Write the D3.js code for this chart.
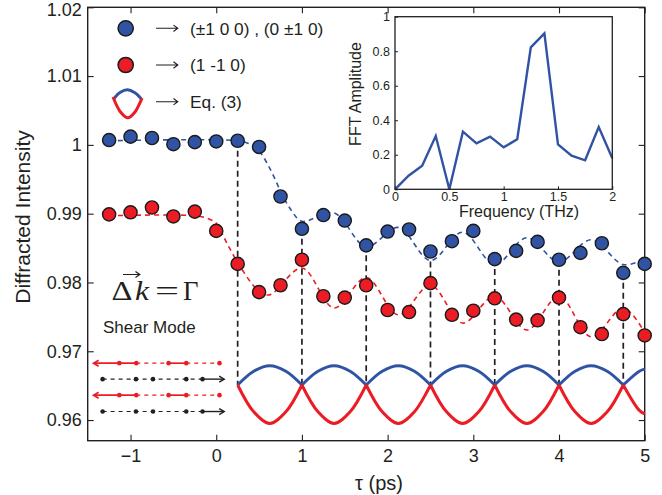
<!DOCTYPE html>
<html><head><meta charset="utf-8">
<script src="https://cdn.jsdelivr.net/npm/d3@7"></script>
<style>
body{margin:0;background:#fff}
svg{display:block}
text{font-family:"Liberation Sans",Arial,sans-serif;fill:#231f20}
</style>
</head><body>
<svg id="chart" width="662" height="495"></svg>
<script>
// ---------- data ----------
const tau = [-1.25,-1,-0.75,-0.5,-0.25,0,0.25,0.5,0.75,1,1.25,1.5,1.75,2,2.25,2.5,2.75,3,3.25,3.5,3.75,4,4.25,4.5,4.75,5];
const blueVals = [1.0007,1.0012,1.0010,1.0001,1.0004,1.0005,1.0006,0.9997,0.9925,0.9878,0.9898,0.9890,0.9854,0.9874,0.9877,0.9845,0.9860,0.9875,0.9834,0.9846,0.9859,0.9833,0.9843,0.9857,0.9814,0.9827];
const redVals  = [0.9899,0.9902,0.9909,0.9896,0.9903,0.9875,0.9827,0.9786,0.9796,0.9833,0.9780,0.9778,0.9796,0.9760,0.9757,0.9799,0.9753,0.9759,0.9777,0.9746,0.9745,0.9778,0.9735,0.9725,0.9754,0.9723];

const blueFitTau  = [-1.25,0.25,0.375,0.5,0.625,0.75,0.875,1.0,1.375,1.75,2.125,2.5,2.875,3.25,3.625,4.0,4.375,4.75,5.0];
const blueFitVals = [1.0006,1.0006,1.0002,0.9991,0.9966,0.9933,0.9905,0.9889,0.9901,0.9852,0.9880,0.9832,0.9873,0.9826,0.9865,0.9830,0.9862,0.9826,0.9834];
const redFitTau   = [-1.25,-0.25,-0.1,0.0,0.125,0.28,0.5,0.625,1.0,1.375,1.75,2.125,2.5,2.875,3.25,3.625,4.0,4.375,4.75,5.0];
const redFitVals  = [0.9897,0.9897,0.9893,0.9886,0.9857,0.9823,0.9787,0.9782,0.9821,0.9763,0.9807,0.9753,0.9796,0.9741,0.9780,0.9731,0.9780,0.9721,0.9763,0.9727];

const eqTau  = [0.25,0.4375,0.625,0.8125,1.0,1.1875,1.375,1.5625,1.75,1.9375,2.125,2.3125,2.5,2.6875,2.875,3.0625,3.25,3.4375,3.625,3.8125,4.0,4.1875,4.375,4.5625,4.75,4.9375,5.0];
const eqBlue = [0.9651,0.9671,0.9679,0.9671,0.9651,0.9671,0.9679,0.9671,0.9651,0.9671,0.9679,0.9671,0.9651,0.9671,0.9679,0.9671,0.9651,0.9671,0.9679,0.9671,0.9651,0.9671,0.9679,0.9671,0.9651,0.9671,0.9674];
const eqRed  = [0.9651,0.9612,0.9595,0.9612,0.9651,0.9612,0.9595,0.9612,0.9651,0.9612,0.9595,0.9612,0.9651,0.9612,0.9595,0.9612,0.9651,0.9612,0.9595,0.9612,0.9651,0.9612,0.9595,0.9612,0.9651,0.9614,0.9609];
const eqCross = 0.9651;

const markerTau = [0.25,1,1.75,2.5,3.25,4,4.75];
const markerBottom = 0.9651;

const xTicks = [-1,0,1,2,3,4,5];
const xTickLabels = ["\u22121","0","1","2","3","4","5"];
const yTicks = [0.96,0.97,0.98,0.99,1,1.01,1.02];
const yTickLabels = ["0.96","0.97","0.98","0.99","1","1.01","1.02"];

const fftFreq = [0,0.125,0.25,0.375,0.5,0.625,0.75,0.875,1.0,1.125,1.25,1.375,1.5,1.625,1.75,1.875,2.0];
const fftAmp  = [0,0.079,0.137,0.309,0,0.334,0.266,0.305,0.243,0.290,0.822,0.903,0.260,0.195,0.168,0.361,0.180];
const insetXTicks = [0,0.5,1,1.5,2];
const insetXLabels = ["0","0.5","1","1.5","2"];
const insetYTicks = [0,0.2,0.4,0.6,0.8,1];
const insetYLabels = ["0","0.2","0.4","0.6","0.8","1"];

// schematic (displacement pattern), in data units
const schemRedRows = [0.96827,0.96362];
const schemBlackRows = [0.96595,0.96124];
const schemRedDots = [-1.131,-0.933,-0.556,-0.350,0.038];
const schemBlackDots = [-1.326,-0.937,-0.738,-0.350,-0.160];
const schemRedTip = -1.431, schemBlackTip = 0.093;

// ---------- drawing ----------
const BLUE = "#3153a4", RED = "#ec1c24", INK = "#231f20";
const svg = d3.select("#chart");
const L = 87.7, R = 644.7, T = 7.3, B = 440.7;
const x = d3.scaleLinear().domain([-1.5,5]).range([L,R]);
const y = d3.scaleLinear().domain([0.957,1.02]).range([B,T]);

const g = svg.append("g");

// axes (inward ticks on all sides)
const xb = g.append("g").attr("transform",`translate(0,${B})`)
  .call(d3.axisBottom(x).tickValues(xTicks).tickSizeInner(-6).tickSizeOuter(0).tickPadding(8.5)
    .tickFormat((d,i)=>xTickLabels[i]));
const xt = g.append("g").attr("transform",`translate(0,${T})`)
  .call(d3.axisTop(x).tickValues(xTicks).tickSizeInner(-6).tickSizeOuter(0).tickFormat(""));
const yl = g.append("g").attr("transform",`translate(${L},0)`)
  .call(d3.axisLeft(y).tickValues(yTicks).tickSizeInner(-6).tickSizeOuter(0).tickPadding(6)
    .tickFormat((d,i)=>yTickLabels[i]));
const yr = g.append("g").attr("transform",`translate(${R},0)`)
  .call(d3.axisRight(y).tickValues(yTicks).tickSizeInner(-6).tickSizeOuter(0).tickFormat(""));
[xb,xt,yl,yr].forEach(a=>{
  a.select(".domain").remove();
  a.selectAll("line").attr("stroke",INK).attr("stroke-width",1.1);
  a.selectAll("text").style("font-size","18px").attr("fill",INK).style("font-family","'Liberation Sans',Arial,sans-serif");
});
yl.selectAll("text").filter((d,i)=>i===yTicks.length-1).attr("dy","0.45em");

g.append("rect").attr("x",L).attr("y",T).attr("width",R-L).attr("height",B-T)
  .attr("fill","none").attr("stroke",INK).attr("stroke-width",1.4);

// axis titles
g.append("text").attr("x",379).attr("y",490).attr("text-anchor","middle")
  .style("font-size","20px").text("\u03c4 (ps)");
g.append("text").attr("transform","translate(30,217) rotate(-90)").attr("text-anchor","middle")
  .style("font-size","21px").text("Diffracted Intensity");

// fits
const line = d3.line().curve(d3.curveCatmullRom.alpha(0.5));
g.append("path").attr("d",line(blueFitTau.map((t,i)=>[x(t),y(blueFitVals[i])])))
  .attr("fill","none").attr("stroke",BLUE).attr("stroke-width",1.6).attr("stroke-dasharray","5,4");
g.append("path").attr("d",line(redFitTau.map((t,i)=>[x(t),y(redFitVals[i])])))
  .attr("fill","none").attr("stroke",RED).attr("stroke-width",1.6).attr("stroke-dasharray","5,4");

// vertical markers
markerTau.forEach(t=>{
  const idx = tau.indexOf(t);
  g.append("line").attr("x1",x(t)).attr("x2",x(t)).attr("y1",y(blueVals[idx])).attr("y2",y(markerBottom))
    .attr("stroke",INK).attr("stroke-width",1.7).attr("stroke-dasharray","6,4");
});

// Eq.(3) curves: arches between crossings (cusps at crossings)
function arches(vals){
  const segs = []; let cur = [];
  eqTau.forEach((t,i)=>{
    cur.push([x(t),y(vals[i])]);
    if (vals[i]===eqCross && cur.length>1){ segs.push(cur); cur=[[x(t),y(vals[i])]]; }
  });
  if (cur.length>1) segs.push(cur);
  return segs.map(s=>line(s)).join("");
}
g.append("path").attr("d",arches(eqBlue))
  .attr("fill","none").attr("stroke",BLUE).attr("stroke-width",3).attr("stroke-linejoin","round");
g.append("path").attr("d",arches(eqRed))
  .attr("fill","none").attr("stroke",RED).attr("stroke-width",3).attr("stroke-linejoin","round");

// points
g.append("g").selectAll("circle").data(tau).join("circle")
  .attr("cx",d=>x(d)).attr("cy",(d,i)=>y(redVals[i])).attr("r",6.6)
  .attr("fill",RED).attr("stroke","#1a1a1a").attr("stroke-width",1.4);
g.append("g").selectAll("circle").data(tau).join("circle")
  .attr("cx",d=>x(d)).attr("cy",(d,i)=>y(blueVals[i])).attr("r",6.6)
  .attr("fill",BLUE).attr("stroke","#1a1a1a").attr("stroke-width",1.4);

// schematic
const sch = g.append("g");
schemRedRows.forEach(v=>{
  const yy = y(v);
  const d = schemRedDots;
  sch.append("line").attr("x1",x(schemRedTip)).attr("x2",x(d[1])).attr("y1",yy).attr("y2",yy).attr("stroke",RED).attr("stroke-width",1.7);
  sch.append("line").attr("x1",x(d[1])).attr("x2",x(d[2])).attr("y1",yy).attr("y2",yy).attr("stroke",RED).attr("stroke-width",1.1).attr("stroke-dasharray","4,4");
  sch.append("line").attr("x1",x(d[2])).attr("x2",x(d[3])).attr("y1",yy).attr("y2",yy).attr("stroke",RED).attr("stroke-width",1.7);
  sch.append("line").attr("x1",x(d[3])).attr("x2",x(d[4])).attr("y1",yy).attr("y2",yy).attr("stroke",RED).attr("stroke-width",1.1).attr("stroke-dasharray","4,4");
  const tx = x(schemRedTip);
  sch.append("path").attr("d",`M${tx+5},${yy-3}L${tx},${yy}L${tx+5},${yy+3}`).attr("fill","none").attr("stroke",RED).attr("stroke-width",1.7);
  sch.selectAll(null).data(d).join("circle").attr("cx",t=>x(t)).attr("cy",yy).attr("r",2.3).attr("fill",RED);
});
schemBlackRows.forEach(v=>{
  const yy = y(v);
  const d = schemBlackDots;
  sch.append("line").attr("x1",x(d[0])).attr("x2",x(d[4])).attr("y1",yy).attr("y2",yy).attr("stroke",INK).attr("stroke-width",1.1).attr("stroke-dasharray","4,4");
  sch.append("line").attr("x1",x(d[4])).attr("x2",x(schemBlackTip)).attr("y1",yy).attr("y2",yy).attr("stroke",INK).attr("stroke-width",1.4);
  const tx = x(schemBlackTip);
  sch.append("path").attr("d",`M${tx-5},${yy-3}L${tx},${yy}L${tx-5},${yy+3}`).attr("fill","none").attr("stroke",INK).attr("stroke-width",1.4);
  sch.selectAll(null).data(d).join("circle").attr("cx",t=>x(t)).attr("cy",yy).attr("r",2.3).attr("fill",INK);
});

// annotations: vec(Δk) = Γ
const serif = "'Liberation Serif','Times New Roman',serif";
g.append("text").attr("x",111.5).attr("y",300).attr("textLength",21).attr("lengthAdjust","spacingAndGlyphs")
  .style("font-family",serif).style("font-size","27px").text("\u0394");
g.append("text").attr("x",135).attr("y",300).attr("textLength",14).attr("lengthAdjust","spacingAndGlyphs")
  .style("font-family",serif).style("font-style","italic").style("font-size","27px").text("k");
g.append("text").attr("x",155).attr("y",300).attr("textLength",24).attr("lengthAdjust","spacingAndGlyphs")
  .style("font-family",serif).style("font-size","27px").text("=");
g.append("text").attr("x",183).attr("y",300).attr("textLength",15.5).attr("lengthAdjust","spacingAndGlyphs")
  .style("font-family",serif).style("font-size","27px").text("\u0393");
g.append("path").attr("d","M123,274.5H139.5M135.5,271.5L139.8,274.5L135.5,277.5").attr("fill","none").attr("stroke",INK).attr("stroke-width",1.2);
g.append("text").attr("x",103).attr("y",333).style("font-size","17px").text("Shear Mode");

// legend
const lg = g.append("g");
const legY = [28.3,65];
lg.append("circle").attr("cx",125.7).attr("cy",legY[0]).attr("r",7.6).attr("fill",BLUE).attr("stroke","#1a1a1a").attr("stroke-width",1.5);
lg.append("circle").attr("cx",125.7).attr("cy",legY[1]).attr("r",7.6).attr("fill",RED).attr("stroke","#1a1a1a").attr("stroke-width",1.5);
[legY[0],legY[1],101.7].forEach(yy=>{
  lg.append("path").attr("d",`M156,${yy}H177.5M173.5,${yy-3.2}L177.8,${yy}L173.5,${yy+3.2}`).attr("fill","none").attr("stroke",INK).attr("stroke-width",1.1);
});
lg.append("text").attr("x",190).attr("y",34.5).style("font-size","17.3px").text("(\u00b11 0 0) , (0 \u00b11 0)");
lg.append("text").attr("x",190).attr("y",71).style("font-size","17.3px").text("(1 -1 0)");
lg.append("text").attr("x",190).attr("y",108).style("font-size","17.3px").text("Eq. (3)");
const curve = d3.line().curve(d3.curveCatmullRom.alpha(0.5));
lg.append("path").attr("d",curve([[114,98.5],[120,92.5],[127.5,89.8],[134.5,92.5],[141,98.5]]))
  .attr("fill","none").attr("stroke",BLUE).attr("stroke-width",3);
lg.append("path").attr("d",curve([[113,97],[120.5,112],[127.8,117.8],[135,112],[142,98]]))
  .attr("fill","none").attr("stroke",RED).attr("stroke-width",3);

// inset
const iL = 395, iR = 612.3, iT = 16.7, iB = 189.3;
const xi = d3.scaleLinear().domain([0,2]).range([iL,iR]);
const yi = d3.scaleLinear().domain([0,1]).range([iB,iT]);
const ig = svg.append("g");
ig.append("rect").attr("x",iL).attr("y",iT).attr("width",iR-iL).attr("height",iB-iT).attr("fill","#fff");
const ixb = ig.append("g").attr("transform",`translate(0,${iB})`)
  .call(d3.axisBottom(xi).tickValues(insetXTicks).tickSizeInner(-3).tickSizeOuter(0).tickPadding(3)
    .tickFormat((d,i)=>insetXLabels[i]));
const iyl = ig.append("g").attr("transform",`translate(${iL},0)`)
  .call(d3.axisLeft(yi).tickValues(insetYTicks).tickSizeInner(-3).tickSizeOuter(0).tickPadding(5)
    .tickFormat((d,i)=>insetYLabels[i]));
[ixb,iyl].forEach(a=>{
  a.select(".domain").remove();
  a.selectAll("line").attr("stroke",INK).attr("stroke-width",1);
  a.selectAll("text").style("font-size","12.5px").attr("fill",INK).style("font-family","'Liberation Sans',Arial,sans-serif");
});
ig.append("path").attr("d",d3.line()(fftFreq.map((f,i)=>[xi(f),yi(fftAmp[i])])))
  .attr("fill","none").attr("stroke",BLUE).attr("stroke-width",2.4).attr("stroke-linejoin","miter");
ig.append("rect").attr("x",iL).attr("y",iT).attr("width",iR-iL).attr("height",iB-iT)
  .attr("fill","none").attr("stroke",INK).attr("stroke-width",1.3);
ig.append("text").attr("x",519).attr("y",217).attr("text-anchor","middle").style("font-size","16px").text("Frequency (THz)");
ig.append("text").attr("transform","translate(361,94) rotate(-90)").attr("text-anchor","middle").style("font-size","16px").text("FFT Amplitude");
</script>
</body></html>
